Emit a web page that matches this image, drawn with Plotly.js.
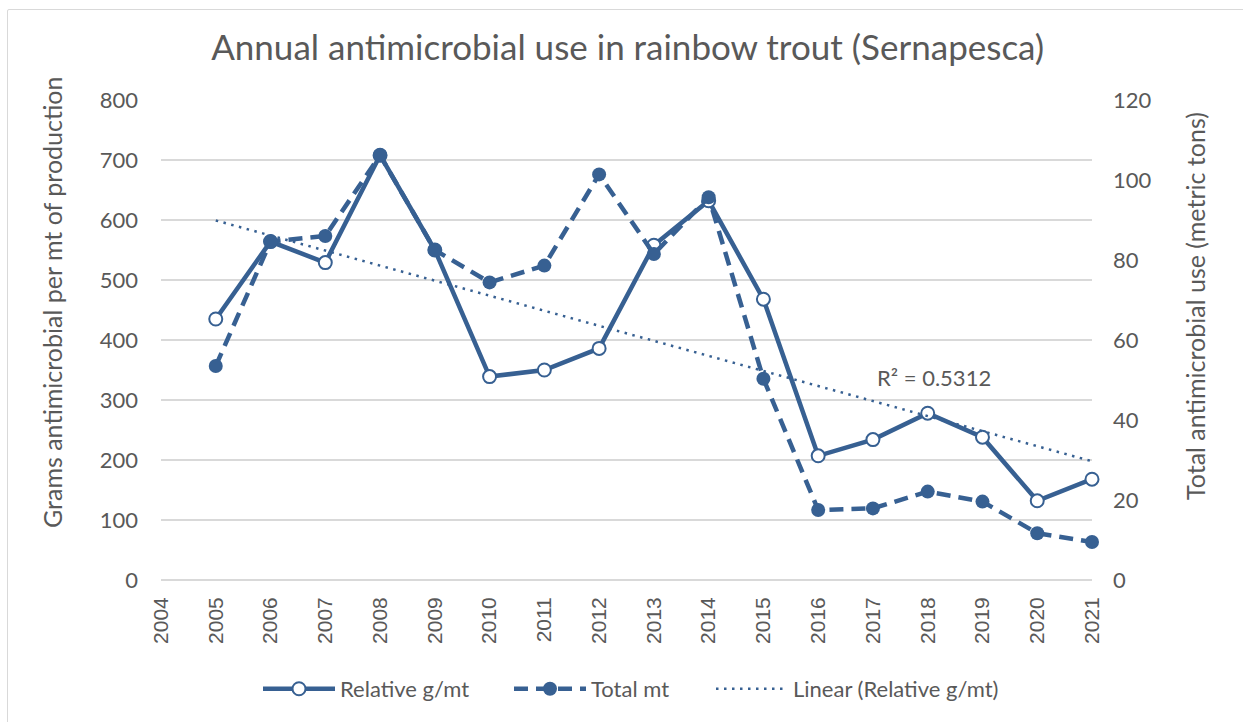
<!DOCTYPE html>
<html>
<head>
<meta charset="utf-8">
<script src="https://cdn.plot.ly/plotly-3.0.1.min.js"></script>
<style>
  html, body { margin: 0; padding: 0; background: #ffffff; }
  #wrap { position: relative; width: 1243px; height: 722px; overflow: hidden; }
  #chart { width: 1243px; height: 722px; }
  #frame { position: absolute; left: 7px; top: 9px; width: 1260px; height: 740px;
           border: 1.5px solid #d9d9d9; border-radius: 2px; pointer-events: none; }
</style>
</head>
<body>
<div id="wrap">
  <div id="chart"></div>
  <div id="frame"></div>
</div>
<script>
// ---- Data ----
const years = [2005, 2006, 2007, 2008, 2009, 2010, 2011, 2012, 2013, 2014, 2015, 2016, 2017, 2018, 2019, 2020, 2021];
const relativeGPerMt = [435, 564, 529, 708, 550, 339, 350, 386, 558, 632, 468, 207, 234, 278, 238, 132, 168];
const totalMt = [53.5, 84.6, 86.0, 106.2, 82.5, 74.4, 78.6, 101.4, 81.5, 95.7, 50.3, 17.5, 17.9, 22.1, 19.6, 11.7, 9.5];
const xTickVals = [2004, 2005, 2006, 2007, 2008, 2009, 2010, 2011, 2012, 2013, 2014, 2015, 2016, 2017, 2018, 2019, 2020, 2021];
const leftTicks = [0, 100, 200, 300, 400, 500, 600, 700, 800];
const rightTicks = [0, 20, 40, 60, 80, 100, 120];
const r2Label = "R² = 0.5312";

// Least-squares linear trendline of the relative series (as Excel's "Linear" trendline)
function linearFit(xs, ys) {
  const n = xs.length;
  const mx = xs.reduce((a, b) => a + b, 0) / n;
  const my = ys.reduce((a, b) => a + b, 0) / n;
  let sxy = 0, sxx = 0;
  for (let i = 0; i < n; i++) { sxy += (xs[i] - mx) * (ys[i] - my); sxx += (xs[i] - mx) ** 2; }
  const slope = sxy / sxx;
  return xs.map(x => my + slope * (x - mx));
}
const trend = linearFit(years, relativeGPerMt);

const blue = '#376092';
const grey = '#595959';
const bodyFont = 'Lato, "Open Sans", sans-serif';

const traces = [
  {
    x: years, y: relativeGPerMt, name: 'Relative g/mt', type: 'scatter', mode: 'lines+markers',
    line: { color: blue, width: 4.5 },
    marker: { symbol: 'circle', size: 13, color: '#ffffff', line: { color: blue, width: 2 } },
    cliponaxis: false, yaxis: 'y', legend: 'legend'
  },
  {
    x: years, y: totalMt, name: 'Total mt', type: 'scatter', mode: 'lines+markers',
    line: { color: blue, width: 4.5, dash: '14px,8px' },
    marker: { symbol: 'circle', size: 14, color: blue, line: { color: blue, width: 0 } },
    cliponaxis: false, yaxis: 'y2', legend: 'legend2'
  },
  {
    x: years, y: trend, name: 'Linear (Relative g/mt)', type: 'scatter', mode: 'lines',
    line: { color: blue, width: 2.5, dash: '2.5px,5.5px' },
    cliponaxis: false, yaxis: 'y', legend: 'legend3'
  }
];

function legendAt(startPx) {
  return {
    orientation: 'h', xref: 'paper', x: (startPx - 5 - 161) / 931, xanchor: 'left',
    y: -0.227, yanchor: 'middle',
    font: { family: bodyFont, size: 22, color: grey }, bgcolor: 'rgba(0,0,0,0)',
    itemwidth: 72
  };
}

const layout = {
  width: 1243, height: 722,
  paper_bgcolor: '#ffffff', plot_bgcolor: '#ffffff',
  margin: { l: 161, r: 151, t: 100, b: 142 },
  font: { family: bodyFont, color: grey, size: 20 },
  title: {
    text: 'Annual antimicrobial use in rainbow trout (Sernapesca)',
    font: { family: bodyFont, size: 35, color: grey },
    x: 0.505, xanchor: 'center', xref: 'container',
    y: 1 - 48 / 722, yanchor: 'middle', yref: 'container'
  },
  xaxis: {
    range: [2004, 2021], tickmode: 'array', tickvals: xTickVals, ticktext: xTickVals.map(String),
    tickangle: -90, showgrid: false, zeroline: false, showline: false, ticks: '',
    tickfont: { family: '"Liberation Sans", Arial, sans-serif', size: 21, color: grey },
    ticklabelstandoff: 12
  },
  yaxis: {
    range: [0, 800], tickmode: 'array', tickvals: leftTicks,
    showgrid: true, gridcolor: '#d9d9d9', gridwidth: 1.5,
    zeroline: true, zerolinecolor: '#d9d9d9', zerolinewidth: 1.5,
    showline: false, ticks: '', tickfont: { family: bodyFont, size: 22, color: grey },
    ticklabelstandoff: 22
  },
  yaxis2: {
    range: [0, 120], tickmode: 'array', tickvals: rightTicks,
    overlaying: 'y', side: 'right', showgrid: false, zeroline: false, showline: false, ticks: '',
    tickfont: { family: bodyFont, size: 22, color: grey },
    ticklabelstandoff: 20
  },
  showlegend: true,
  legend: legendAt(263),
  legend2: legendAt(514),
  legend3: legendAt(716),
  annotations: [
    {
      text: 'Grams antimicrobial per mt of production', textangle: -90,
      xref: 'paper', yref: 'paper', x: (52 - 161) / 931, y: (580 - 303) / 480,
      xanchor: 'center', yanchor: 'middle', showarrow: false,
      font: { family: bodyFont, size: 25, color: grey }
    },
    {
      text: 'Total antimicrobial use (metric tons)', textangle: -90,
      xref: 'paper', yref: 'paper', x: (1195 - 161) / 931, y: (580 - 306) / 480,
      xanchor: 'center', yanchor: 'middle', showarrow: false,
      font: { family: bodyFont, size: 25, color: grey }
    },
    {
      text: r2Label, xref: 'x', yref: 'y', x: 2018.12, y: 338,
      xanchor: 'center', yanchor: 'middle', showarrow: false,
      font: { family: bodyFont, size: 22, color: grey }
    }
  ]
};

Plotly.newPlot('chart', traces, layout, { displayModeBar: false, staticPlot: true });
</script>
</body>
</html>
